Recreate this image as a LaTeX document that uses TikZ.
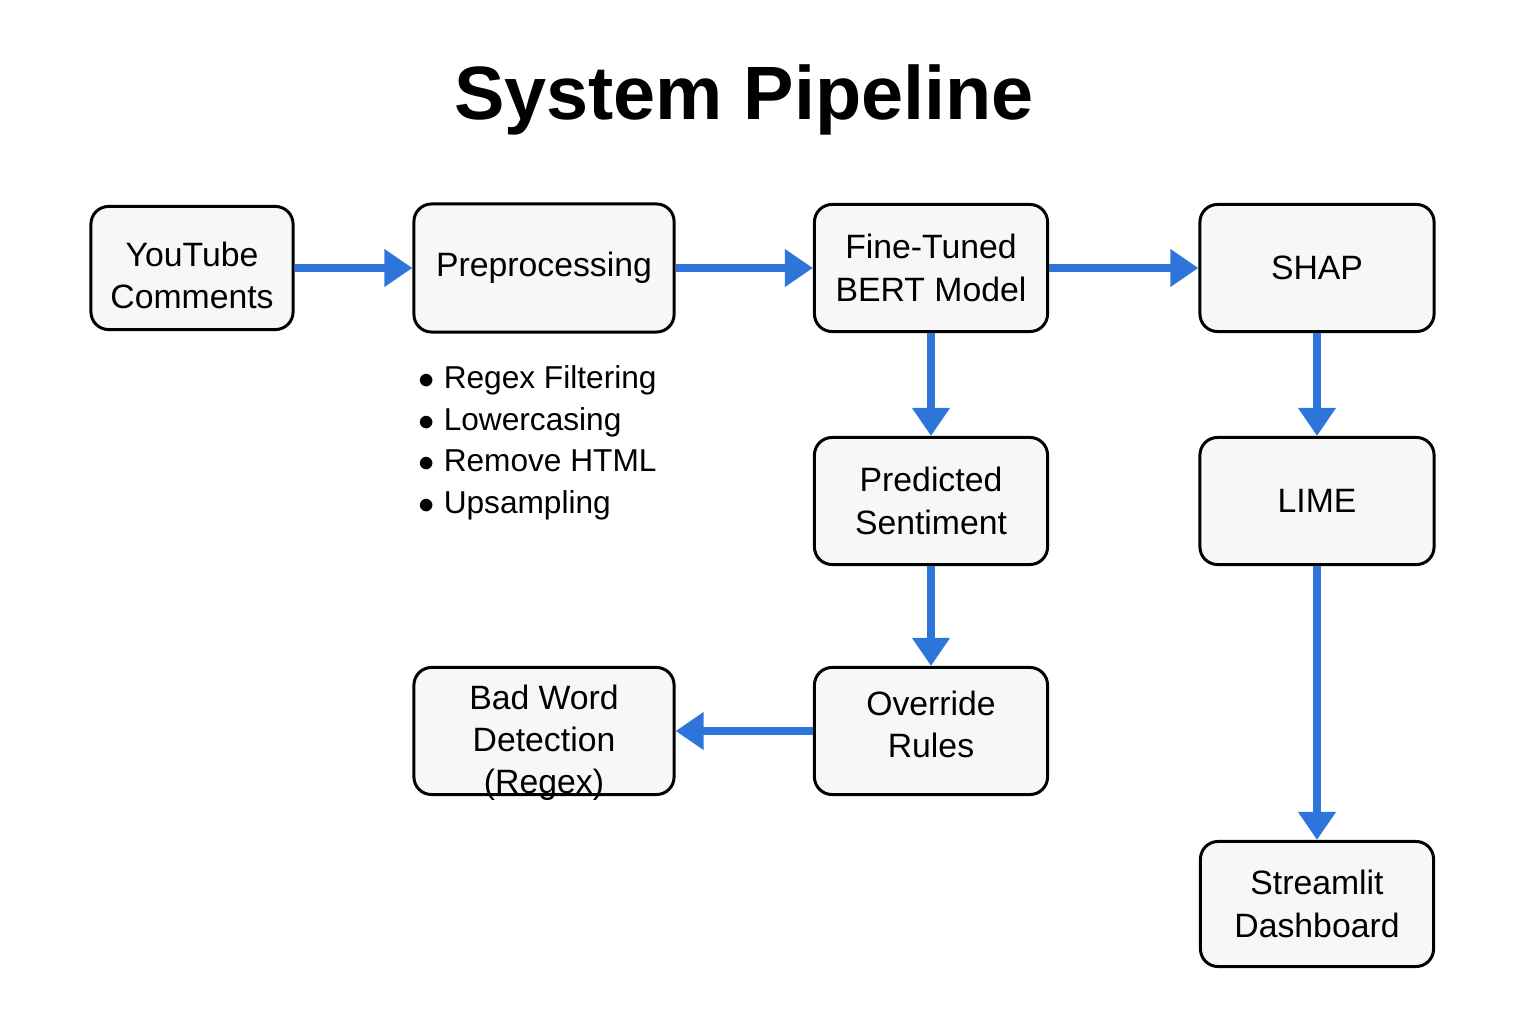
\documentclass[tikz,border=0pt]{standalone}
\usepackage{fontspec}
\setmainfont{Liberation Sans}
\usetikzlibrary{arrows.meta}
\definecolor{flowblue}{RGB}{46,117,218}
\definecolor{boxfill}{RGB}{247,247,247}
\newcommand{\boxlines}[2]{\raisebox{#1}[0pt][0pt]{\begin{tabular}{@{}c@{}}#2\end{tabular}}}

\begin{document}
\begin{tikzpicture}
[x=0.01cm,y=-0.01cm,%
  every node/.style={font=\fontsize{9.6}{12}\selectfont},%
  stage/.style={draw,line width=0.85pt,rounded corners=5pt,fill=boxfill,
    minimum width=2.33cm,minimum height=1.27cm,inner sep=0pt,align=center},%
  flow/.style={-{Triangle[length=2.8mm,width=3.6mm]},draw=flowblue,line width=2pt}]
\useasboundingbox (0,0) rectangle (1536,1024);
\node[anchor=base,font=\fontsize{21.5}{26}\selectfont\bfseries] (title) at (744,119) {System Pipeline};
\node[stage,minimum width=2.02cm,minimum height=1.23cm] (yt) at (192,268) {\boxlines{-5.7pt}{YouTube\\Comments}};
\node[stage,minimum width=2.6cm,minimum height=1.28cm] (prep) at (544,268) {Preprocessing};
\node[stage] (bert) at (931,268) {Fine-Tuned\\BERT Model};
\node[stage,minimum width=2.34cm] (shap) at (1317,268) {SHAP};
\node[anchor=north west,inner sep=0pt,align=left,font=\fontsize{9}{11.8}\selectfont] (steps) at (418,365)
  {$\bullet$\ Regex Filtering\\ $\bullet$\ Lowercasing\\ $\bullet$\ Remove HTML\\ $\bullet$\ Upsampling};
\node[stage] (pred) at (931,501) {Predicted\\Sentiment};
\node[stage,minimum width=2.34cm] (lime) at (1317,501) {LIME};
\node[stage] (rules) at (931,731) {\boxlines{-1.6pt}{Override\\Rules}};
\node[stage,minimum width=2.6cm] (bad) at (544,731) {\boxlines{-6pt}{Bad Word\\Detection\\(Regex)}};
\node[stage,minimum height=1.25cm] (dash) at (1317,904) {Streamlit\\Dashboard};
\draw[flow] (yt) -- (prep);
\draw[flow] (prep) -- (bert);
\draw[flow] (bert) -- (shap);
\draw[flow] (bert) -- (pred);
\draw[flow] (pred) -- (rules);
\draw[flow] (rules) -- (bad);
\draw[flow] (shap) -- (lime);
\draw[flow] (lime) -- (dash);
\end{tikzpicture}
\end{document}
